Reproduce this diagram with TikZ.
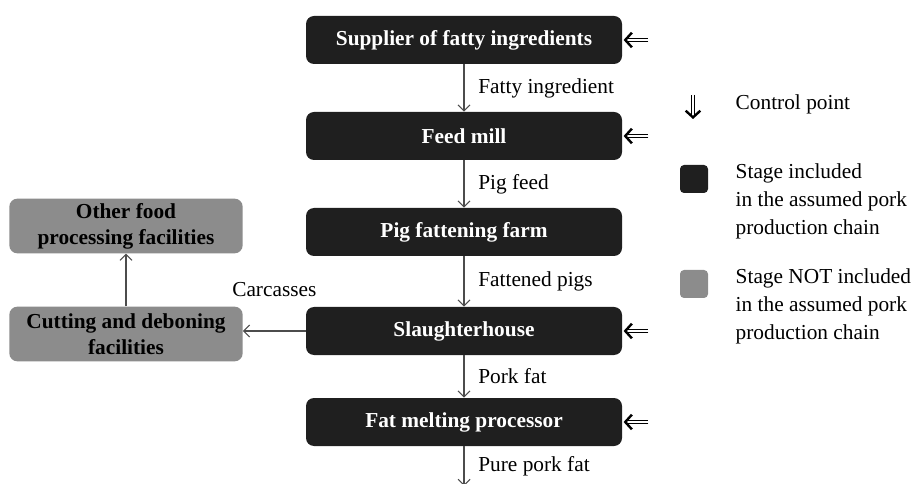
\documentclass[tikz,border=0pt]{standalone}
\usepackage{fontspec}
\setmainfont{Liberation Serif}
\usetikzlibrary{arrows.meta}
\newcommand\chainfont{\fontsize{16}{21}\selectfont}
\tikzset{
  stage/.style={fill=black!88, text=white, font=\chainfont\bfseries, rounded corners=6pt,
    minimum width=237pt, minimum height=36pt},
  other/.style={fill=black!45, font=\fontsize{16}{19.5}\selectfont\bfseries, rounded corners=6pt,
    minimum width=175pt, minimum height=41pt, align=center},
  keybox/.style={minimum size=21pt, rounded corners=3pt, inner sep=0pt},
  flow/.style={-{Straight Barb[length=4.5pt,width=9pt]}, draw=black!70, line width=0.8pt},
  ctrl/.style={double, double distance=1.3pt, line width=0.7pt,
    -{Straight Barb[length=5pt, width=11pt, line width=1.8pt]}},
}
\begin{document}
\begin{tikzpicture}[x=0.75pt,y=-0.75pt,every node/.append style={font=\chainfont}]
  \useasboundingbox (0,0) rectangle (920,484);

  \node[stage] (supplier) at (464,40) {Supplier of fatty ingredients};
  \node[stage] (mill) at (464,136) {Feed mill};
  \node[stage] (farm) at (464,232) {Pig fattening farm};
  \node[stage] (slaughter) at (464,331) {Slaughterhouse};
  \node[stage] (melter) at (464,422) {Fat melting processor};
  \coordinate (out) at (464,486);

  \node[other] (cutting) at (126,334) {Cutting and deboning\\facilities};
  \node[other] (food) at (126,226) {Other food\\processing facilities};

  \draw[flow] (supplier) -- node[right=7pt] {Fatty ingredient} (mill);
  \draw[flow] (mill) -- node[right=7pt] {Pig feed} (farm);
  \draw[flow] (farm) -- node[right=7pt] {Fattened pigs} (slaughter);
  \draw[flow] (slaughter) -- node[right=7pt] {Pork fat} (melter);
  \draw[flow] (melter) -- node[right=7pt] {Pure pork fat} (out);
  \draw[flow] (slaughter.west) -- node[above=22pt] {Carcasses} (cutting.east |- slaughter.west);
  \draw[flow] (cutting) -- (food);

  \foreach \s in {supplier,mill,slaughter,melter} {
    \coordinate (\s-cp) at ([xshift=19.5pt]\s.east);
    \draw[ctrl] (\s-cp) -- ([xshift=1pt]\s.east);
  }

  \coordinate (key-top) at (693,95);
  \coordinate (key-bot) at (693,119);
  \draw[ctrl] (key-top) -- (key-bot);
  \node[anchor=west] (key-cp) at (731,104) {Control point};
  \node[keybox, fill=black!88] (key-in) at (694,179) {};
  \node[anchor=west, align=left] (key-in-text) at (731,201) {Stage included\\in the assumed pork\\production chain};
  \node[keybox, fill=black!45] (key-out) at (694,284) {};
  \node[anchor=west, align=left] (key-out-text) at (731,306) {Stage NOT included\\in the assumed pork\\production chain};
\end{tikzpicture}
\end{document}
